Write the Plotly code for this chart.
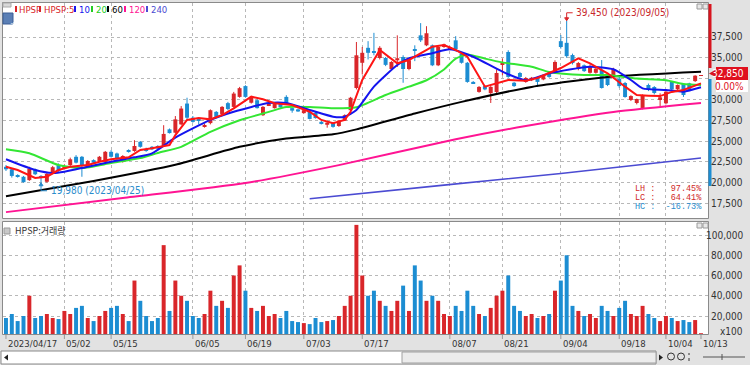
import plotly.graph_objects as go

W, H = 750, 365

# ---------------- data ----------------
apr = ["04/17","04/18","04/19","04/20","04/21","04/24","04/25","04/26","04/27","04/28"]
may = ["05/02","05/03","05/04","05/08","05/09","05/10","05/11","05/12","05/15","05/16","05/17","05/18","05/19",
       "05/22","05/23","05/24","05/25","05/26","05/30","05/31"]
jun = ["06/01","06/02","06/05","06/07","06/08","06/09","06/12","06/13","06/14","06/15","06/16","06/19","06/20",
       "06/21","06/22","06/23","06/26","06/27","06/28","06/29","06/30"]
jul = ["07/03","07/04","07/05","07/06","07/07","07/10","07/11","07/12","07/13","07/14","07/17","07/18","07/19",
       "07/20","07/21","07/24","07/25","07/26","07/27","07/28","07/31"]
aug = ["08/01","08/02","08/03","08/04","08/07","08/08","08/09","08/10","08/11","08/14","08/16","08/17","08/18",
       "08/21","08/22","08/23","08/24","08/25","08/28","08/29","08/30","08/31"]
sep = ["09/01","09/04","09/05","09/06","09/07","09/08","09/11","09/12","09/13","09/14","09/15","09/18","09/19",
       "09/20","09/21","09/22","09/25","09/26","09/27"]
octo = ["10/04","10/05","10/06","10/10","10/11","10/12","10/13"]
dates = ["2023/" + d for d in apr + may + jun + jul + aug + sep + octo]

opens = [21900,21600,20900,20700,20300,21600,20800,20100,21150,22100,21800,22100,23100,23100,21900,22700,22600,22500,
         23700,23500,22500,23900,23800,24900,24000,24300,24400,24400,26400,26000,27000,29500,27800,27700,26700,27150,
         28500,28250,29550,29100,30300,31600,29600,29900,28100,29300,28950,29500,30300,28950,28800,28350,28500,28400,
         27300,26950,27150,26800,27450,28700,31370,34400,36200,35750,34975,34975,33650,34700,35100,33650,35950,37700,
         36500,36500,34100,36300,36000,37100,35500,34400,32100,30900,31600,30750,30890,34250,35700,32000,33170,32100,
         32300,32550,32400,33170,33170,37000,36800,35330,33650,34100,33200,33200,33530,32930,32930,32500,31970,29930,
         29570,28970,31730,31490,29930,29530,32130,31210,31850,31930,32200,32850]
highs = [22100,21700,21000,20800,21900,21700,20900,21200,22000,22300,22200,23000,23300,23200,22700,22800,23200,23800,
         23900,23600,23300,24000,25100,25000,24200,24400,24500,26900,26500,28000,29200,30200,28000,27800,27100,28800,
         28600,29200,29700,30900,31500,31700,30400,30000,29200,29500,29600,29600,30500,29000,28900,28800,28600,28500,
         27400,27300,27200,27500,28200,30300,36900,36300,37000,38000,36400,35100,34600,37700,35300,34800,36500,39170,
         38800,36600,36400,36700,36400,37600,35700,34500,32200,31600,31700,31600,33600,34900,35900,32100,33300,32700,
         32700,32700,32900,33300,34700,37740,39450,35500,34500,34200,34200,33800,34730,33000,33800,32700,32100,30500,
         30100,30600,31900,31600,30730,31000,32200,31800,31950,32000,32900,32850]
lows = [21400,20600,20600,20000,20200,20900,19980,20000,21000,21300,21600,22000,22300,20700,21800,22300,22500,22400,
        23000,22700,22400,23600,23700,24200,23700,23900,24000,24300,25900,25900,26900,27600,27200,27000,26600,27000,
        27800,28100,28700,29000,30200,30200,29500,28900,28000,29200,28900,29000,29500,28400,28500,28300,27600,27700,
        27000,26600,26600,26700,27400,28600,31200,33000,34800,35300,34800,34000,33500,33900,32000,33500,34600,36900,
        36400,34000,34000,36200,35900,35900,34300,32000,31900,30800,31100,29570,30600,32900,32600,31500,32600,32000,
        32200,31500,32300,32600,33100,36100,35000,34200,33500,33300,33100,33100,31300,31600,32900,31400,30200,29800,
        29400,28800,31000,30600,29130,29400,31100,31100,30300,31000,32100,32850]
closes = [21600,20800,20700,20050,21700,21000,20600,21050,21850,21400,22000,22800,22400,22100,22600,22400,23100,23700,
          23100,22800,23200,23700,24400,24300,23800,24000,24100,25850,25950,27600,28900,27800,27300,27500,26900,28700,
          27900,29100,28850,30700,31350,30300,30300,28950,29100,29450,29550,29050,29550,28650,28550,28700,27650,27750,
          27050,27200,26700,27450,28100,30200,35300,35600,35600,35650,36200,34150,34500,34950,33650,34700,35850,37100,
          37950,34100,36300,36600,36300,36050,34400,32100,31950,31500,31200,31500,33170,34370,32700,31600,32700,32570,
          32600,32100,32800,32700,34500,36300,35200,34370,34370,33400,34000,33700,31370,31730,33650,31600,30290,30400,
          30050,30530,31130,30770,30250,30930,31210,31730,30530,31130,32850,32850]
volumes = [18000,22000,15000,20000,40000,18000,20000,22000,18000,17000,25000,22000,28000,30000,18000,15000,20000,25000,
           28000,30000,22000,15000,55000,35000,20000,15000,18000,90000,25000,55000,40000,35000,20000,18000,22000,45000,
           30000,35000,28000,60000,70000,45000,28000,25000,30000,20000,22000,18000,25000,15000,14000,13000,12000,18000,
           14000,15000,16000,20000,30000,40000,110000,60000,40000,45000,35000,30000,25000,35000,50000,25000,70000,55000,
           35000,40000,35000,22000,20000,30000,25000,45000,30000,22000,20000,28000,40000,45000,60000,30000,25000,20000,
           22000,18000,20000,22000,45000,55000,80000,30000,25000,20000,22000,18000,30000,25000,20000,28000,35000,22000,
           20000,30000,22000,18000,15000,20000,18000,15000,16000,14000,16000,3000]

# moving averages (day index, value)
ma5_idx = [0,2,5,7,9,11,14,16,18,21,23,25,28,29,31,33,35,37,39,42,44,46,49,52,54,56,58,59,61,64,67,69,73,75,77,79,82,
           84,86,89,91,95,98,100,103,106,108,110,112,114,116,119]
ma5_val = [21910,21510,20550,20710,21510,21910,22110,22510,22800,23040,23920,24120,24520,25700,27530,27770,27600,28120,
           28930,30330,30010,29530,29330,28520,27530,27130,27530,28500,32330,35940,34340,34740,36340,36540,35940,35140,
           31530,31930,32330,32250,32570,33770,34940,34340,33140,31530,30530,30450,30400,30900,31130,31930]
ma10_idx = [0,5,8,10,14,18,22,25,29,35,39,45,48,52,56,58,60,63,67,69,73,76,80,85,89,93,100,104,107,109,113,116,119]
ma10_val = [22800,21510,21150,21300,21910,22510,23040,23520,25400,27530,28520,29570,29570,28730,27920,27920,28730,31530,
            34130,34940,35540,36020,35130,33330,32300,33130,33930,33620,32330,31330,31130,30930,31450]
ma20_idx = [0,4,9,13,18,23,26,30,35,40,45,48,52,56,60,65,69,72,75,77,79,82,85,90,93,99,103,108,113,116,119]
ma20_val = [24000,23520,22110,21750,22350,22950,23560,24300,26100,27500,28500,29080,29080,28930,29050,30530,31530,32300,
            33600,34900,35400,34900,34450,33930,33300,32930,32930,32500,32300,31850,31730]
ma60_idx = [0,15,29,40,48,56,60,70,78,90,103,119]
ma60_val = [18350,20200,22150,24300,25300,25800,26400,28300,29700,31500,32700,33330]
ma120_idx = [0,20,41,57,77,89,104,119]
ma120_val = [16450,18150,19950,22100,25200,26800,28490,29570]
ma240_idx = [52,75,95,119]
ma240_val = [18050,19700,21100,22950]

label_dates = ["2023/04/17","2023/05/02","2023/05/15","2023/06/05","2023/06/19","2023/07/03","2023/07/17",
               "2023/08/07","2023/08/21","2023/09/04","2023/09/18","2023/10/04","2023/10/13"]
label_text = ["2023/04/17","05/02","05/15","06/05","06/19","07/03","07/17","08/07","08/21","09/04","09/18","10/04","10/13"]
price_ticks = [17500,20000,22500,25000,27500,30000,32500,35000,37500]
vol_ticks = [20000,40000,60000,80000,100000]

UP, DOWN = "#d9262a", "#1c8dd2"
FONT = "Liberation Sans Narrow, DejaVu Sans Condensed, Liberation Sans, sans-serif"
KFONT = "Noto Sans CJK KR"

def px(x):
    return x / W

def py(y):
    return 1 - y / H

pos = {d: k for k, d in enumerate(dates)}
xs = [pos[d] for d in dates]

fig = go.Figure()

# ---- candles ----
up = [c >= o for o, c in zip(opens, closes)]
colors = [UP if u else DOWN for u in up]
base = [min(o, c) for o, c in zip(opens, closes)]
body = [max(abs(c - o), 60) for o, c in zip(opens, closes)]

for flag, col in ((True, UP), (False, DOWN)):
    wx, wy = [], []
    for x, h, l, u in zip(xs, highs, lows, up):
        if u == flag:
            wx += [x, x, None]
            wy += [l, h, None]
    fig.add_trace(go.Scatter(x=wx, y=wy, mode="lines", line=dict(color=col, width=1),
                             xaxis="x", yaxis="y", hoverinfo="skip"))

fig.add_trace(go.Bar(x=xs, y=body, base=base, marker=dict(color=colors, line=dict(width=0)),
                     width=0.68, xaxis="x", yaxis="y"))

# ---- moving averages ----
def ma(idx, val, color, width, shape="spline"):
    fig.add_trace(go.Scatter(x=idx, y=val, mode="lines",
                             line=dict(color=color, width=width, shape=shape, smoothing=0.6),
                             xaxis="x", yaxis="y", hoverinfo="skip"))

ma(ma240_idx, ma240_val, "#4b4bd2", 1.6)
ma(ma120_idx, ma120_val, "#ff1493", 2)
ma(ma60_idx, ma60_val, "#000000", 2)
ma(ma20_idx, ma20_val, "#33e633", 2)
ma(ma10_idx, ma10_val, "#1414ee", 2)
ma(ma5_idx, ma5_val, "#ff1414", 2, "linear")

# ---- volume ----
fig.add_trace(go.Bar(x=xs, y=volumes, marker=dict(color=colors, line=dict(width=0)), width=0.68,
                     xaxis="x2", yaxis="y2"))

xr = [-0.51, 120.2]
gridx = [pos[d] for d in label_dates[1:-1]]
grid = dict(showgrid=True, gridcolor="#b8b8b8", griddash="dot", gridwidth=1)
fig.update_layout(
    width=W, height=H, margin=dict(l=0, r=0, t=0, b=0),
    paper_bgcolor="#e2e2e2", plot_bgcolor="#ffffff",
    showlegend=False, hovermode=False, barmode="overlay",
    xaxis=dict(domain=[px(3), px(708)], range=xr, anchor="y",
               tickvals=gridx, showticklabels=False, ticks="", zeroline=False, **grid),
    xaxis2=dict(domain=[px(3), px(708)], range=xr, anchor="y2", matches="x",
                tickvals=gridx, showticklabels=False, ticks="", zeroline=False, **grid),
    yaxis=dict(domain=[py(218), py(3)], range=[15744, 41587], side="right", anchor="x",
               tickvals=price_ticks, showticklabels=False, zeroline=False, ticks="", **grid),
    yaxis2=dict(domain=[py(334), py(222)], range=[2222, 112840], side="right", anchor="x2",
                tickvals=vol_ticks, showticklabels=False, zeroline=False, ticks="", **grid),
)

shapes = []
ann = []

# right axis labels (right aligned like the reference)
for v in price_ticks:
    if v == 32500:
        continue
    ann.append(dict(x=px(745), y=v, xref="paper", yref="y", xanchor="right", yanchor="middle",
                    text=f"{v:,}", showarrow=False, font=dict(family=FONT, size=10, color="#333")))
for v in vol_ticks:
    ann.append(dict(x=px(745), y=v, xref="paper", yref="y2", xanchor="right", yanchor="middle",
                    text=f"{v:,}", showarrow=False, font=dict(family=FONT, size=10, color="#333")))

# panel borders
shapes.append(dict(type="rect", xref="paper", yref="paper", x0=px(2.5), x1=px(708.5), y0=py(218.5), y1=py(2.5),
                   line=dict(color="#8a8a8a", width=1)))
shapes.append(dict(type="rect", xref="paper", yref="paper", x0=px(2.5), x1=px(708.5), y0=py(334.5), y1=py(221.5),
                   line=dict(color="#8a8a8a", width=1)))
# small window buttons
for yb in (4, 223):
    for xb in (697, 703):
        shapes.append(dict(type="rect", xref="paper", yref="paper", x0=px(xb), x1=px(xb + 5), y0=py(yb + 5),
                           y1=py(yb), fillcolor="#e8e8e8", line=dict(color="#9a9a9a", width=1)))

# legend
legend = [("HPSP", UP, 15, 18), ("HPSP:5", UP, 39, 43), ("10", "#1414ee", 74, 78), ("20", "#22cc22", 91, 95),
          ("60", "#000000", 107, 111), ("120", "#ff1493", 124, 128), ("240", "#4b4bd2", 146, 150)]
for name, col, sx, tx in legend:
    shapes.append(dict(type="rect", xref="paper", yref="paper", x0=px(sx), x1=px(sx + 2), y0=py(12), y1=py(6),
                       fillcolor=col, line=dict(width=0)))
    ann.append(dict(x=px(tx - 1), y=py(9.5), xref="paper", yref="paper", text=name, showarrow=False, xanchor="left",
                    yanchor="middle", font=dict(family=FONT, size=9.5, color=col)))
shapes.append(dict(type="rect", xref="paper", yref="paper", x0=px(3), x1=px(11), y0=py(7), y1=py(3),
                   fillcolor="#d8d8d8", line=dict(color="#aaaaaa", width=1)))
shapes.append(dict(type="rect", xref="paper", yref="paper", x0=px(3), x1=px(13), y0=py(24), y1=py(13),
                   fillcolor="#5b7fb5", line=dict(color="#3c5f95", width=1)))
ann.append(dict(x=px(8), y=py(18.5), xref="paper", yref="paper", text="호", showarrow=False,
                font=dict(family=KFONT, size=8, color="white")))

# volume panel title
shapes.append(dict(type="rect", xref="paper", yref="paper", x0=px(4), x1=px(10), y0=py(234), y1=py(228),
                   fillcolor="#c8c8c8", line=dict(color="#999", width=1)))
ann.append(dict(x=px(13), y=py(231), xref="paper", yref="paper", text="HPSP:거래량", showarrow=False,
                xanchor="left", yanchor="middle", font=dict(family=KFONT, size=9, color="#333")))

# high / low annotations
hi_i = highs.index(max(highs))
lo_i = lows.index(min(lows))
shapes.append(dict(type="path", xref="x", yref="y", xsizemode="pixel", ysizemode="pixel",
                   xanchor=hi_i, yanchor=highs[hi_i], path="M0,1 L0,8 L6,8", line=dict(color=UP, width=1)))
shapes.append(dict(type="path", xref="x", yref="y", xsizemode="pixel", ysizemode="pixel",
                   xanchor=hi_i, yanchor=highs[hi_i], path="M-2,3 L0,0 L2,3 Z", fillcolor=UP,
                   line=dict(color=UP, width=1)))
ann.append(dict(x=hi_i, y=highs[hi_i], xref="x", yref="y", xshift=7, yshift=8, xanchor="left", yanchor="middle",
                text=f"{highs[hi_i]:,} ({dates[hi_i]})", showarrow=False,
                font=dict(family=FONT, size=10, color="#c8282c")))
shapes.append(dict(type="path", xref="x", yref="y", xsizemode="pixel", ysizemode="pixel",
                   xanchor=lo_i, yanchor=lows[lo_i], path="M0,-1 L0,-8 L6,-8", line=dict(color="#2a8ccc", width=1)))
shapes.append(dict(type="path", xref="x", yref="y", xsizemode="pixel", ysizemode="pixel",
                   xanchor=lo_i, yanchor=lows[lo_i], path="M-2,-3 L0,0 L2,-3 Z", fillcolor="#2a8ccc",
                   line=dict(color="#2a8ccc", width=1)))
ann.append(dict(x=lo_i, y=lows[lo_i], xref="x", yref="y", xshift=8, yshift=-8, xanchor="left", yanchor="middle",
                text=f"{lows[lo_i]:,} ({dates[lo_i]})", showarrow=False,
                font=dict(family=FONT, size=10, color="#2a8ccc")))

# LH / LC / HC
last = closes[-1]
lh = (max(highs) / min(lows) - 1) * 100
lc = (last / min(lows) - 1) * 100
hc = (last / max(highs) - 1) * 100
for k, (lab, val, col) in enumerate([("LH", lh, "#d02828"), ("LC", lc, "#d02828"), ("HC", hc, "#2a8ccc")]):
    ann.append(dict(x=px(704), y=py(189 + 9 * k), xref="paper", yref="paper", xanchor="right", yanchor="middle",
                    text=f"{lab} : {val:7.2f}%", showarrow=False,
                    font=dict(family="Liberation Mono, DejaVu Sans Mono, monospace", size=8.5, color=col)))

# right side price bars and current price
shapes.append(dict(type="line", xref="paper", yref="paper", x0=px(710), x1=px(710), y0=py(4), y1=py(68),
                   line=dict(color="#d8141e", width=3)))
shapes.append(dict(type="line", xref="paper", yref="paper", x0=px(710), x1=px(710), y0=py(79), y1=py(186),
                   line=dict(color="#1c8dd2", width=3)))
shapes.append(dict(type="path", xref="paper", yref="paper",
                   path=f"M{px(709)},{py(73.5)} L{px(716)},{py(69.5)} L{px(716)},{py(77.5)} Z",
                   fillcolor="#d8141e", line=dict(width=0)))
shapes.append(dict(type="rect", xref="paper", yref="paper", x0=px(716), x1=px(748), y0=py(80), y1=py(67),
                   fillcolor="#e0101e", line=dict(width=0)))
ann.append(dict(x=px(746), y=py(73.5), xref="paper", yref="paper", xanchor="right", yanchor="middle",
                text=f"{last:,}", showarrow=False, font=dict(family=FONT, size=10, color="white")))
shapes.append(dict(type="rect", xref="paper", yref="paper", x0=px(716), x1=px(748), y0=py(92), y1=py(80),
                   fillcolor="#ffffff", line=dict(width=0)))
ann.append(dict(x=px(746), y=py(86), xref="paper", yref="paper", xanchor="right", yanchor="middle",
                text="0.00%", showarrow=False, font=dict(family=FONT, size=10, color="#e0101e")))

# x100 label
ann.append(dict(x=px(745), y=py(331), xref="paper", yref="paper", xanchor="right", yanchor="middle",
                text="x100", showarrow=False, font=dict(family=FONT, size=10, color="#333")))

# date labels
for d, t in zip(label_dates, label_text):
    ann.append(dict(x=pos[d], y=py(343), xref="x2", yref="paper", xanchor="left", yanchor="middle", xshift=0,
                    text=t, showarrow=False, font=dict(family=FONT, size=9.5, color="#333")))
    shapes.append(dict(type="line", xref="x2", yref="paper", x0=pos[d], x1=pos[d], y0=py(335), y1=py(339),
                       line=dict(color="#999", width=1)))

# scrollbar (drawn with shapes)
shapes.append(dict(type="rect", xref="paper", yref="paper", x0=px(1), x1=px(656), y0=py(364), y1=py(351),
                   fillcolor="#ffffff", line=dict(color="#8a8a8a", width=1)))
shapes.append(dict(type="rect", xref="paper", yref="paper", x0=px(402), x1=px(656), y0=py(363), y1=py(352),
                   fillcolor="#ececec", line=dict(color="#a0a0a0", width=1)))
shapes.append(dict(type="path", xref="paper", yref="paper",
                   path=f"M{px(4)},{py(357.5)} L{px(8)},{py(354.5)} L{px(8)},{py(360.5)} Z",
                   fillcolor="#222", line=dict(width=0)))
shapes.append(dict(type="path", xref="paper", yref="paper",
                   path=f"M{px(663)},{py(357.5)} L{px(659)},{py(354.5)} L{px(659)},{py(360.5)} Z",
                   fillcolor="#222", line=dict(width=0)))
for cx in (671, 681):
    shapes.append(dict(type="circle", xref="paper", yref="paper", x0=px(cx - 3.5), x1=px(cx + 3.5),
                       y0=py(360), y1=py(353), line=dict(color="#333", width=1)))
shapes.append(dict(type="line", xref="paper", yref="paper", x0=px(689), x1=px(689), y0=py(361), y1=py(353),
                   line=dict(color="#333", width=1, dash="dot")))
shapes.append(dict(type="line", xref="paper", yref="paper", x0=px(703), x1=px(745), y0=py(357), y1=py(357),
                   line=dict(color="#555", width=1)))
shapes.append(dict(type="line", xref="paper", yref="paper", x0=px(722), x1=px(722), y0=py(360), y1=py(354),
                   line=dict(color="#555", width=1)))

fig.update_layout(shapes=shapes, annotations=ann)
fig.write_html("out.html", config={"displayModeBar": False},
               post_script="document.body.style.margin='0';document.body.style.padding='0';")
